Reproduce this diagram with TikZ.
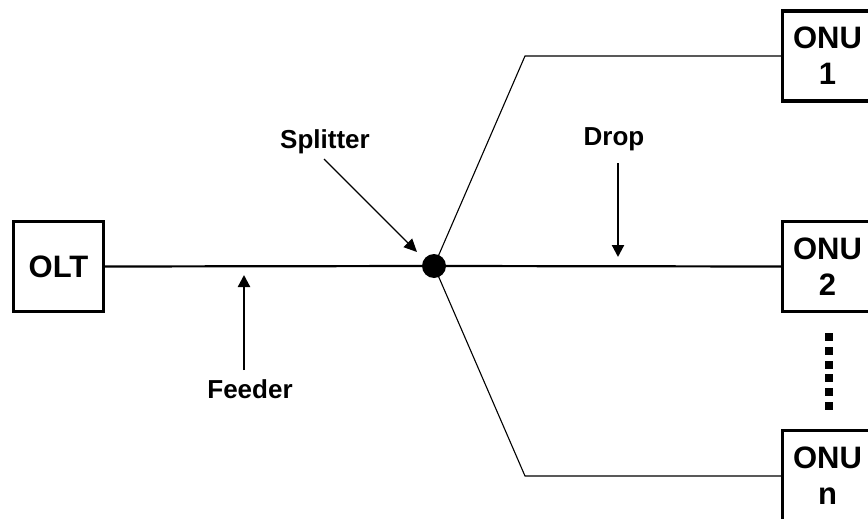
\documentclass[tikz,border=0pt]{standalone}
\usepackage{fontspec}
\setmainfont{Liberation Sans}
\usetikzlibrary{arrows.meta}
\begin{document}
\begin{tikzpicture}[x=1pt,y=-1pt,
  box/.style={draw, line width=3.4pt, minimum width=90pt, minimum height=90pt, inner sep=0pt, align=center, font=\bfseries\fontsize{31}{36}\selectfont},
  lbl/.style={font=\bfseries\fontsize{26}{30}\selectfont, inner sep=0pt, anchor=base},
  fiber/.style={line width=1.1pt},
  trunk/.style={line width=2.2pt},
  pointer/.style={line width=2.2pt, -{Triangle[length=12pt,width=12pt]}},
  thinpointer/.style={line width=1.3pt, -{Triangle[length=13pt,width=12pt]}},
  dotsq/.style={fill=black, minimum size=8pt, inner sep=0pt}]
\useasboundingbox (0,0) rectangle (868,519);
\clip (0,0) rectangle (868,519);
% boxes
\node[box] (olt) at (58.5,266.5) {OLT};
\node[box] (onu1) at (827.5,56) {ONU\\1};
\node[box] (onu2) at (827.5,266.5) {ONU\\2};
\node[box] (onun) at (827.5,475.5) {ONU\\n};
% splitter
\node[circle, fill=black, minimum size=24pt, inner sep=0pt] (sp) at (434,266) {};
\coordinate (b1) at (525,56);
\coordinate (bn) at (525,476);
% fibres
\draw[trunk] (olt.east) -- (sp.center);
\draw[trunk] (sp.center) -- (onu2.west);
\draw[fiber] (sp.center) -- (b1) -- (b1 -| onu1.west);
\draw[fiber] (sp.center) -- (bn) -- (bn -| onun.west);
% dots
\foreach \i [count=\k] in {0,...,5} {
  \node[dotsq] (d\k) at (829,{337+\i*13.8}) {};
}
% labels
\node[lbl] (lsp) at (325,148) {Splitter};
\node[lbl] (ldrop) at (614,146) {Drop};
\node[lbl] (lfeed) at (250,398) {Feeder};
\coordinate (spA) at (324,159);
\coordinate (spB) at (417,252);
\draw[thinpointer] (spA) -- (spB);
\coordinate (drA) at (618,163);
\coordinate (drB) at (618,257);
\draw[pointer] (drA) -- (drB);
\coordinate (feA) at (244,370);
\coordinate (feB) at (244,275);
\draw[pointer] (feA) -- (feB);
\end{tikzpicture}
\end{document}
